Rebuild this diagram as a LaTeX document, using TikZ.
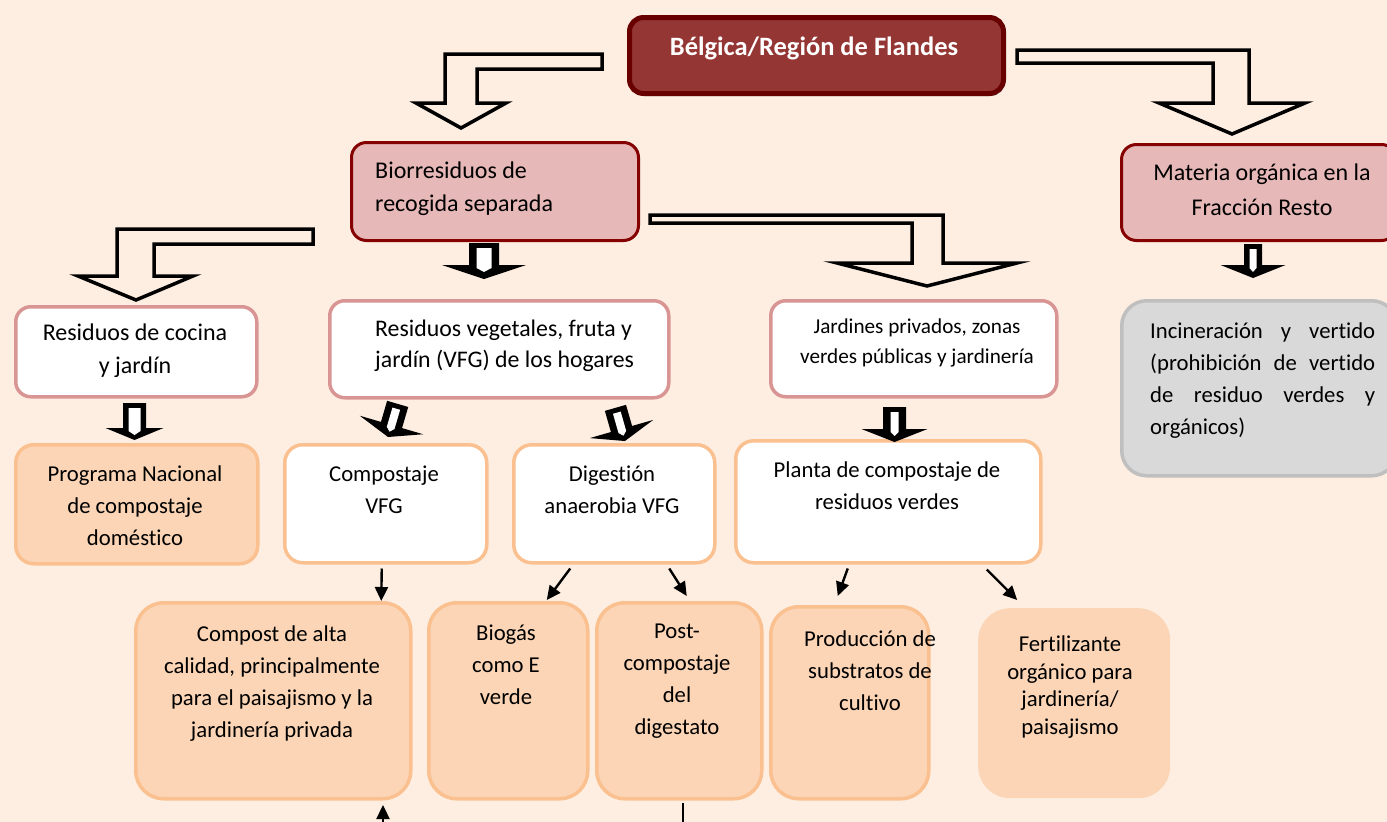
\documentclass[tikz,border=0pt]{standalone}
\usepackage{fontspec}
\setmainfont{Carlito}[Ligatures={NoCommon}, RawFeature={-liga;-clig;-dlig;-calt}]
\usetikzlibrary{arrows.meta,calc}
\definecolor{bgc}{HTML}{FDEEE1}
\definecolor{belgfill}{HTML}{943634}
\definecolor{belgline}{HTML}{680000}
\definecolor{belgshadow}{HTML}{A7B6BA}
\definecolor{rosefill}{HTML}{E6B8B7}
\definecolor{roseline}{HTML}{850000}
\definecolor{pinkline}{HTML}{D99594}
\definecolor{greyfill}{HTML}{D9D9D9}
\definecolor{greyline}{HTML}{BFBFBF}
\definecolor{peachfill}{HTML}{FBD5B5}
\definecolor{orangeline}{HTML}{FAC090}
\tikzset{
  basebox/.style={rectangle, anchor=north west, inner sep=0pt},
  darkbox/.style={basebox, fill=belgfill, draw=belgline, line width=5pt, rounded corners=14pt},
  rosebox/.style={basebox, fill=rosefill, draw=roseline, line width=3pt, rounded corners=15pt},
  pinkbox/.style={basebox, fill=white, draw=pinkline, line width=3.5pt, rounded corners=15pt},
  greybox/.style={basebox, fill=greyfill, draw=greyline, line width=3.5pt, rounded corners=25pt},
  peachbox/.style={basebox, fill=peachfill, draw=orangeline, line width=3.5pt, rounded corners=18pt},
  whitebox/.style={basebox, fill=white, draw=orangeline, line width=3.5pt, rounded corners=18pt},
  bigpeach/.style={peachbox, rounded corners=28pt},
  fertbox/.style={basebox, fill=peachfill, rounded corners=32pt},
  txt/.style={align=center, inner sep=0pt, font=\fontsize{22.7}{32}\selectfont},
  bigtxt/.style={align=center, inner sep=0pt, font=\fontsize{24}{33}\selectfont},
  blockarr/.style={draw=black, fill=bgc, line width=3.5pt, line join=miter},
  smallout/.style={fill=black},
  smallin/.style={fill=white},
  thinline/.style={draw=black, line width=2.4pt},
  thinarr/.style={thinline, -{Triangle[length=14pt,width=13pt]}},
}
% #1 base centre, #2 rotation, #3 shaft half width, #4 shaft length,
% #5 head half width, #6 head length, #7 inner half width
\newcommand\SmallArrow[7]{%
  \begin{scope}[shift={#1}, rotate=#2]
    \fill[smallout] (-#3,-#4) -- (#3,-#4) -- (#3,0) -- (#5,0) -- (0,#6) -- (-#5,0) -- (-#3,0) -- cycle;
    \fill[smallin] (-#7,{-#4+5}) -- (#7,{-#4+5}) -- (#7,3) -- (0,7) -- (-#7,3) -- cycle;
  \end{scope}}
\begin{document}
\begin{tikzpicture}[x=1pt,y=-1pt]
\useasboundingbox (0,0) rectangle (1387,822);
\clip (0,0) rectangle (1387,822);
\fill[bgc] (0,0) rectangle (1387,822);

% ---- boxes ----
\fill[belgshadow, rounded corners=14pt] (631,19) rectangle (1005,96);
\node[darkbox, minimum width=374pt, minimum height=76pt] (belg) at (627,15) {};
\node[rosebox, minimum width=287pt, minimum height=98pt] (bio) at (350,141) {};
\node[rosebox, minimum width=275pt, minimum height=96pt] (materia) at (1120,143) {};
\node[pinkbox, minimum width=241pt, minimum height=90pt] (cocina) at (14,305) {};
\node[pinkbox, minimum width=339pt, minimum height=97pt] (vfg) at (328,299) {};
\node[pinkbox, minimum width=286pt, minimum height=96pt] (jard) at (769,299) {};
\node[greybox, minimum width=275pt, minimum height=175pt] (incin) at (1120,299) {};
\node[peachbox, minimum width=242pt, minimum height=119pt] (prog) at (14,443) {};
\node[whitebox, minimum width=202pt, minimum height=118pt] (compostaje) at (283,443) {};
\node[whitebox, minimum width=201pt, minimum height=118pt] (digest) at (512,443) {};
\node[whitebox, minimum width=305pt, minimum height=122pt] (planta) at (734,439) {};
\node[bigpeach, minimum width=275pt, minimum height=196pt] (compost) at (134,601) {};
\node[bigpeach, minimum width=159pt, minimum height=196pt] (biogas) at (427,601) {};
\node[bigpeach, minimum width=165pt, minimum height=196pt] (post) at (595,601) {};
\node[bigpeach, minimum width=158pt, minimum height=192pt] (produc) at (769,605) {};
\node[fertbox, minimum width=192pt, minimum height=190pt] (fert) at (978,608) {};

% ---- texts ----
\node[inner sep=0pt, text=white, font=\fontsize{26.5}{32}\selectfont\bfseries] (belg-t) at (814,48.5) {Bélgica/Región de Flandes};
\node[bigtxt, align=left, anchor=west] (bio-t) at (375,188.5) {Biorresiduos de\\recogida separada};
\node[bigtxt, font=\fontsize{24}{35}\selectfont] (materia-t) at (1262,189.5) {Materia orgánica en la\\Fracción Resto};
\node[bigtxt] (cocina-t) at (135,351) {Residuos de cocina\\y jardín};
\node[txt, align=left, anchor=west, font=\fontsize{23.8}{31}\selectfont] (vfg-t) at (375,345.5) {Residuos vegetales, fruta y\\jardín (VFG) de los hogares};
\node[txt, font=\fontsize{21.2}{30}\selectfont] (jard-t) at (917,343) {Jardines privados, zonas\\verdes públicas y jardinería};
\node[txt, align=left, anchor=west] (incin-t) at (1150,381) {\makebox[225pt][s]{Incineración y vertido}\\\makebox[225pt][s]{(prohibición de vertido}\\\makebox[225pt][s]{de residuo verdes y}\\orgánicos)};
\node[txt] (prog-t) at (135,505.5) {Programa Nacional\\de compostaje\\doméstico};
\node[txt] (compostaje-t) at (384,490) {Compostaje\\VFG};
\node[txt] (digest-t) at (612,490) {Digestión\\anaerobia VFG};
\node[txt] (planta-t) at (887,486) {Planta de compostaje de\\residuos verdes};
\node[txt] (compost-t) at (272,683.5) {Compost de alta\\calidad, principalmente\\para el paisajismo y la\\jardinería privada};
\node[txt] (biogas-t) at (506,665) {Biogás\\como E\\verde};
\node[txt] (post-t) at (677,681) {Post-\\compostaje\\del\\digestato};
\node[txt] (produc-t) at (870,670.5) {Producción de\\substratos de\\cultivo};
\node[txt, font=\fontsize{22.7}{27.5}\selectfont] (fert-t) at (1070,687) {Fertilizante\\orgánico para\\jardinería/\\paisajismo};

% ---- block arrows ----
\draw[blockarr] (602,54) -- (445,54) -- (445,103) -- (416,103) -- (461,128) -- (506,103) -- (477,103) -- (477,69) -- (602,69) -- cycle;
\draw[blockarr] (1017,50) -- (1249,50) -- (1249,103) -- (1305,103) -- (1232,134) -- (1159,103) -- (1213,103) -- (1213,63) -- (1017,63) -- cycle;
\draw[blockarr] (313,229) -- (117,229) -- (117,276) -- (78,276) -- (136,300) -- (193,276) -- (154,276) -- (154,244) -- (313,244) -- cycle;
\draw[blockarr] (650,215) -- (943,215) -- (943,263) -- (1017,263) -- (927,286) -- (837,263) -- (912,263) -- (912,223) -- (650,223) -- cycle;
% small arrows
\SmallArrow{(484,265)}{0}{15}{22}{42}{14}{7.5}
\SmallArrow{(1253,265)}{0}{9}{21}{32.5}{13}{3.5}
\SmallArrow{(134.5,428)}{0}{11.5}{25}{29}{12}{6}
\SmallArrow{(894.5,429)}{0}{11.5}{22}{33}{13}{4}
\SmallArrow{(391.5,425)}{-16.3}{11}{22}{33}{12.5}{4}
\SmallArrow{(621.5,429)}{16}{11}{22}{33}{12.5}{4}

% ---- thin arrows ----
\draw[thinarr] ($(compostaje.south)+(-4,4)$) -- ($(compost.north)+(108,0)$);
\draw[thinarr] ($(digest.south)+(-44,4)$) -- ($(biogas.north)+(38.5,-1)$);
\draw[thinarr] ($(digest.south)+(55,4)$) -- ($(post.north)+(7.5,-5)$);
\draw[thinarr] ($(planta.south)+(-40.5,4)$) -- ($(produc.north)+(-12,-9)$);
\draw[thinarr] ($(planta.south)+(98.5,5)$) -- ($(fert.north)+(-57,-8)$);
\coordinate (bot1) at (383,823);
\coordinate (bot2) at (683,823);
\coordinate (bot1e) at (383,805);
\coordinate (bot2e) at (683,803);
\draw[thinarr] (bot1) -- (bot1e);
\draw[thinline] (bot2) -- (bot2e);
\end{tikzpicture}
\end{document}
